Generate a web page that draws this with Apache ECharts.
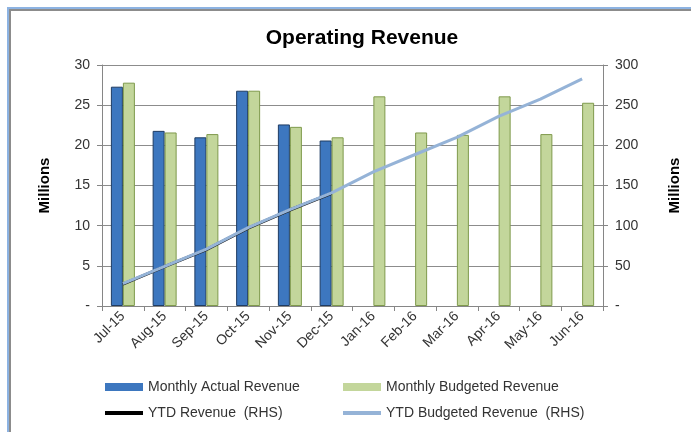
<!DOCTYPE html>
<html>
<head>
<meta charset="utf-8">
<script src="https://cdn.jsdelivr.net/npm/echarts@6/dist/echarts.min.js"></script>
<style>
  html, body { margin: 0; padding: 0; background: #fff; }
  .frame {
    position: absolute; left: 7px; top: 7px; width: 690px; height: 430px;
    border-left: 2px solid #8db3e2; border-top: 2px solid #8db3e2;
    box-shadow: inset 2px 2px 0 #8c8c8c;
  }
  #chart { position: absolute; left: 0; top: 0; width: 691px; height: 432px; }
</style>
</head>
<body>
<div class="frame"></div>
<div id="chart"></div>
<script>
  // values in millions
  const months = ['Jul-15','Aug-15','Sep-15','Oct-15','Nov-15','Dec-15','Jan-16','Feb-16','Mar-16','Apr-16','May-16','Jun-16'];
  const actualRevenue = [27.3, 21.8, 21.0, 26.8, 22.6, 20.6, null, null, null, null, null, null];
  const budgetRevenue = [27.8, 21.6, 21.4, 26.8, 22.3, 21.0, 26.1, 21.6, 21.3, 26.1, 21.4, 25.3];
  const ytdRevenue = [27.3, 49.1, 70.1, 96.9, 119.5, 140.1, null, null, null, null, null, null];
  const ytdBudget = [27.8, 49.4, 70.8, 97.6, 119.9, 140.9, 167.0, 188.6, 209.9, 236.0, 257.4, 282.7];

  const font = 'Liberation Sans';
  const chart = echarts.init(document.getElementById('chart'));

  function legendRow(name, left, top, iconH, color) {
    return {
      left: left, top: top, orient: 'horizontal',
      data: [{ name: name, icon: 'rect', itemStyle: { color: color, borderWidth: 0 } }],
      itemWidth: 38, itemHeight: iconH, itemGap: 4,
      textStyle: { fontFamily: font, fontSize: 14, color: '#333' },
      selectedMode: false
    };
  }

  const zeroDash = v => v === 0 ? '-' : v;

  chart.setOption({
    animation: false,
    title: {
      text: 'Operating Revenue', left: 357, top: 23, textAlign: 'center',
      textStyle: { fontFamily: font, fontSize: 21, fontWeight: 'bold', color: '#000' }
    },
    legend: [
      legendRow('Monthly Actual Revenue', 100, 375, 8, '#3d77bf'),
      legendRow('Monthly Budgeted Revenue', 338, 375, 8, '#c3d69b'),
      legendRow('YTD Revenue  (RHS)', 100, 401, 4, '#000'),
      legendRow('YTD Budgeted Revenue  (RHS)', 338, 401, 4, '#95b3d7')
    ],
    grid: { left: 102, right: 88, top: 65, bottom: 126 },
    xAxis: {
      type: 'category', data: months,
      axisLine: { lineStyle: { color: '#868686' } },
      axisTick: { show: true, length: 5, lineStyle: { color: '#868686' } },
      axisLabel: { rotate: 45, fontFamily: font, fontSize: 14, color: '#333', margin: 8 }
    },
    yAxis: [{
      type: 'value', min: 0, max: 30, interval: 5,
      name: 'Millions', nameLocation: 'middle', nameRotate: 90, nameGap: 50,
      nameTextStyle: { fontFamily: font, fontSize: 15, fontWeight: 'bold', color: '#000' },
      axisLine: { show: true, lineStyle: { color: '#868686' } },
      axisTick: { show: true, length: 5, lineStyle: { color: '#868686' } },
      axisLabel: { formatter: zeroDash, fontFamily: font, fontSize: 14, color: '#333', margin: 12 },
      splitLine: { lineStyle: { color: '#8c8c8c' } }
    }, {
      type: 'value', min: 0, max: 300, interval: 50,
      name: 'Millions', nameLocation: 'middle', nameRotate: 90, nameGap: 64,
      nameTextStyle: { fontFamily: font, fontSize: 15, fontWeight: 'bold', color: '#000' },
      axisLine: { show: true, lineStyle: { color: '#868686' } },
      axisTick: { show: true, length: 5, lineStyle: { color: '#868686' } },
      axisLabel: { formatter: zeroDash, fontFamily: font, fontSize: 14, color: '#333', margin: 12 },
      splitLine: { show: false }
    }],
    series: [{
      name: 'Monthly Actual Revenue', type: 'bar', data: actualRevenue,
      barWidth: 12, barGap: '0%',
      itemStyle: { color: '#3d77bf', borderColor: '#1f3c63', borderWidth: 1 }
    }, {
      name: 'Monthly Budgeted Revenue', type: 'bar', data: budgetRevenue,
      barWidth: 12,
      itemStyle: { color: '#c3d69b', borderColor: '#7f9a4c', borderWidth: 1 }
    }, {
      name: 'YTD Revenue  (RHS)', type: 'line', yAxisIndex: 1, data: ytdRevenue,
      showSymbol: false, z: 3,
      lineStyle: { color: '#111', width: 3 }, itemStyle: { color: '#000' }
    }, {
      name: 'YTD Budgeted Revenue  (RHS)', type: 'line', yAxisIndex: 1, data: ytdBudget,
      showSymbol: false, z: 4,
      lineStyle: { color: '#95b3d7', width: 3 }, itemStyle: { color: '#95b3d7' }
    }]
  });
</script>
</body>
</html>
